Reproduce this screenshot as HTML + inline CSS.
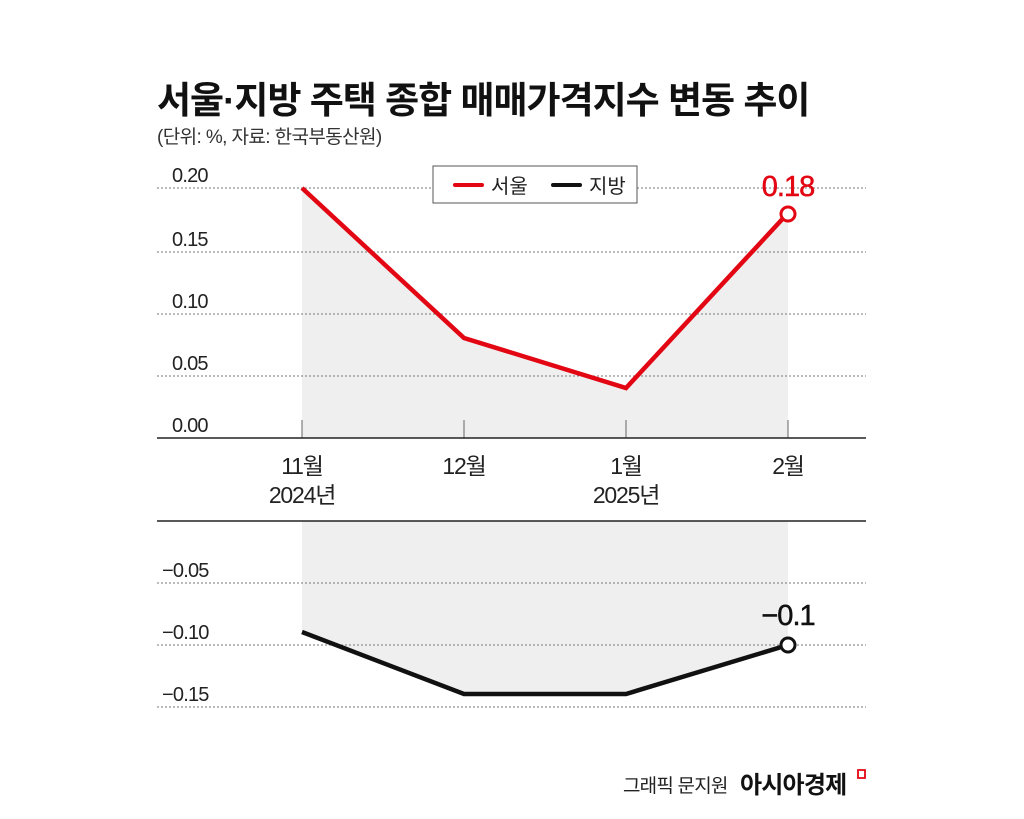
<!DOCTYPE html>
<html><head><meta charset="utf-8"><style>
body{margin:0;background:#fff;}
svg{display:block;font-family:"Liberation Sans","Noto Sans CJK KR",sans-serif;}
</style></head><body>
<svg width="1024" height="819" viewBox="0 0 1024 819">
<text x="157" y="113" font-size="37" font-weight="bold" fill="#111" letter-spacing="-1">서울·지방 주택 종합 매매가격지수 변동 추이</text>
<text x="157" y="143" font-size="19" fill="#333" letter-spacing="-0.6">(단위: %, 자료: 한국부동산원)</text>
<!-- top chart -->
<polygon points="302,188 464,338 626,388 788,213 788,438 302,438" fill="#eeefee"/>
<g stroke="#777" stroke-dasharray="2,2" stroke-width="1">
<line x1="157" y1="188" x2="866" y2="188"/><line x1="157" y1="252" x2="866" y2="252"/>
<line x1="157" y1="314" x2="866" y2="314"/><line x1="157" y1="376" x2="866" y2="376"/>
</g>
<g stroke="#666" stroke-width="1">
<line x1="302" y1="420" x2="302" y2="438"/><line x1="464" y1="420" x2="464" y2="438"/>
<line x1="626" y1="420" x2="626" y2="438"/><line x1="788" y1="420" x2="788" y2="438"/>
</g>
<line x1="157" y1="438" x2="866" y2="438" stroke="#222" stroke-width="1.5"/>
<g font-size="20" fill="#222" letter-spacing="-0.8">
<text x="172" y="182">0.20</text><text x="172" y="246">0.15</text><text x="172" y="308">0.10</text>
<text x="172" y="370">0.05</text><text x="172" y="432">0.00</text>
</g>
<polyline points="302,188 464,338 626,388 788,213" fill="none" stroke="#e30613" stroke-width="4.5" stroke-linejoin="miter"/>
<circle cx="788" cy="214" r="7" fill="#fff" stroke="#e30613" stroke-width="3"/>
<text x="788" y="196" font-size="29" fill="#e30613" text-anchor="middle" letter-spacing="-1" stroke="#e30613" stroke-width="0.5">0.18</text>
<rect x="433" y="166" width="204" height="37" fill="#fff" stroke="#555" stroke-width="1"/>
<line x1="455" y1="185" x2="482" y2="185" stroke="#e30613" stroke-width="4" stroke-linecap="round"/>
<text x="491" y="193" font-size="20" fill="#222">서울</text>
<line x1="553" y1="185" x2="580" y2="185" stroke="#111" stroke-width="4" stroke-linecap="round"/>
<text x="589" y="193" font-size="20" fill="#222">지방</text>
<!-- x labels -->
<g font-size="23" fill="#222" text-anchor="middle" letter-spacing="-1.2">
<text x="302" y="474">11월</text><text x="302" y="503">2024년</text>
<text x="464" y="474">12월</text>
<text x="626" y="474">1월</text><text x="626" y="503">2025년</text>
<text x="788" y="474">2월</text>
</g>
<!-- bottom chart -->
<polygon points="302,521 788,521 788,645 626,694 464,694 302,632" fill="#eeefee"/>
<line x1="157" y1="521" x2="866" y2="521" stroke="#222" stroke-width="1.5"/>
<g stroke="#777" stroke-dasharray="2,2" stroke-width="1">
<line x1="157" y1="583" x2="866" y2="583"/><line x1="157" y1="645" x2="866" y2="645"/>
<line x1="157" y1="707" x2="866" y2="707"/>
</g>
<g font-size="20" fill="#222" letter-spacing="-0.8">
<text x="162" y="577">−0.05</text><text x="162" y="639">−0.10</text><text x="162" y="701">−0.15</text>
</g>
<polyline points="302,632 464,694 626,694 788,645" fill="none" stroke="#111" stroke-width="4.5"/>
<circle cx="788" cy="645" r="7" fill="#fff" stroke="#111" stroke-width="3"/>
<text x="788" y="625" font-size="29" fill="#111" text-anchor="middle" letter-spacing="-1" stroke="#111" stroke-width="0.5">−0.1</text>
<!-- footer -->
<text x="623" y="792" font-size="19" fill="#222" letter-spacing="-0.8">그래픽 문지원</text>
<text x="740" y="793" font-size="24" font-weight="bold" fill="#111" letter-spacing="-0.8">아시아경제</text>
<path d="M858,770 h7 v8 h-7 z" fill="none" stroke="#e30613" stroke-width="1.8"/>
</svg>
</body></html>
